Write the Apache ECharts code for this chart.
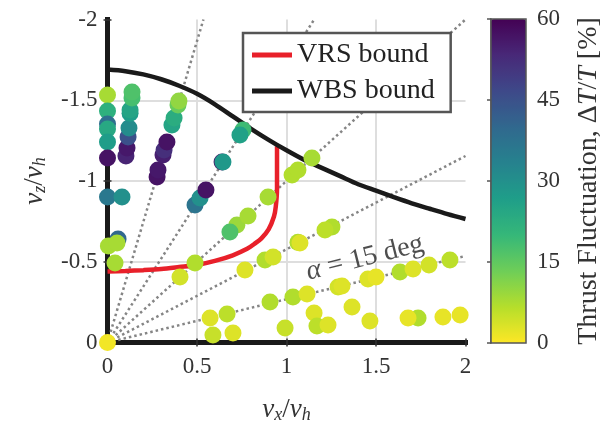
<!DOCTYPE html>
<html>
<head>
<meta charset="utf-8">
<script src="https://cdn.jsdelivr.net/npm/echarts@6/dist/echarts.min.js"></script>
<style>
  html, body { margin: 0; padding: 0; background: #fff; }
  #chart { width: 600px; height: 425px; }
</style>
</head>
<body>
<div id="chart"></div>
<script>
const serif = 'Liberation Serif'

// axis ticks
const xTicks = [0, 0.5, 1, 1.5, 2]
const yTicks = [-2, -1.5, -1, -0.5, 0]
const cbTicks = [0, 15, 30, 45, 60]

// boundaries
const wbsX = [0, 0.1, 0.2, 0.3, 0.4, 0.5, 0.6, 0.7, 0.8, 0.9, 1.0, 1.1, 1.2, 1.3, 1.4, 1.5, 1.6, 1.7, 1.8, 1.9, 2.0]
const wbsY = [-1.69, -1.68, -1.66, -1.63, -1.59, -1.54, -1.475, -1.40, -1.325, -1.255, -1.19, -1.13, -1.08, -1.03, -0.98, -0.94, -0.90, -0.862, -0.828, -0.795, -0.765]
const vrsX = [0, 0.1, 0.2, 0.3, 0.4, 0.5, 0.6, 0.7, 0.78, 0.82, 0.86, 0.9, 0.93, 0.94, 0.947, 0.947]
const vrsY = [-0.44, -0.443, -0.448, -0.455, -0.467, -0.48, -0.505, -0.54, -0.58, -0.61, -0.645, -0.7, -0.78, -0.84, -0.95, -1.215]

// reference rays (deg)
const rayAngles = [15, 30, 45, 60, 75]

// measured points: vx/vh, vz/vh, thrust fluctuation [%]
const ptX = [0, 0, 0, 0, 0, 0, 0, 0, 0.081, 0.059, 0.005, 0.053, 0.042,
  0.103, 0.109, 0.115, 0.12, 0.126, 0.126, 0.137, 0.137,
  0.277, 0.282, 0.31, 0.316, 0.332, 0.36, 0.372, 0.394, 0.399,
  0.489, 0.517, 0.55,
  0.64, 0.645, 0.757, 0.74,
  0.723, 0.684, 0.785, 0.897, 1.031, 1.064, 1.142, 0.489, 0.405,
  0.768, 0.88, 0.925, 1.064, 1.075, 1.254, 1.215,
  0.573, 0.668, 0.908, 1.036, 1.115, 1.288, 1.31, 1.455, 1.5, 1.634, 1.707, 1.796, 1.913,
  0.589, 0.701, 0.992, 1.154, 1.366, 1.17, 1.232, 1.466, 1.735, 1.679, 1.874, 1.97]
const ptY = [0, -1.532, -1.433, -1.353, -1.322, -1.241, -1.142, -0.901, -0.901, -0.641, -0.598, -0.616, -0.492,
  -1.155, -1.204, -1.272, -1.328, -1.42, -1.44, -1.514, -1.551,
  -1.025, -1.068, -1.161, -1.192, -1.241, -1.347, -1.39, -1.471, -1.495,
  -0.851, -0.895, -0.944,
  -1.117, -1.117, -1.316, -1.285,
  -0.728, -0.684, -0.783, -0.901, -1.037, -1.068, -1.142, -0.492, -0.406,
  -0.449, -0.511, -0.529, -0.62, -0.616, -0.715, -0.697,
  -0.152, -0.176, -0.251, -0.282, -0.3, -0.344, -0.35, -0.393, -0.406, -0.437, -0.455, -0.48, -0.511,
  -0.046, -0.059, -0.09, -0.183, -0.22, -0.102, -0.108, -0.133, -0.152, -0.152, -0.158, -0.17]
const ptVal = [1, 8, 22, 38, 24, 27, 57, 36, 30, 40, 8, 8, 8,
  54, 56, 45, 31, 27, 25, 18, 17,
  57, 56, 55, 52, 57, 25, 23, 14, 10,
  37, 30, 57,
  56, 28, 19, 26,
  9, 17, 8, 8, 7, 7, 8, 7, 4,
  3, 7, 4, 7, 3, 7, 6,
  3, 6, 7, 7, 3, 4, 3, 3, 2, 7, 3, 4, 6,
  5, 3, 5, 3, 3, 6, 3, 3, 7, 2, 2, 2]

const viridis = ['#fde725', '#b5de2b', '#6ece58', '#35b779', '#1f9e89', '#26828e', '#31688e', '#3e4989', '#482878', '#440154']

const chart = echarts.init(document.getElementById('chart'), null, { renderer: 'canvas' })

const points = ptX.map((x, i) => [x, ptY[i], ptVal[i]])
const rays = rayAngles.map(a => {
  const t = Math.tan(a * Math.PI / 180)
  const end = t <= 1 ? [2, -2 * t] : [2 / t, -2]
  return {
    type: 'line', silent: true, showSymbol: false, z: 1,
    data: [[0, 0], end],
    lineStyle: { color: '#858585', width: 2.5, type: [2.5, 3] }
  }
})

const labelStyle = { fontFamily: serif, fontSize: 23, color: '#333' }
const frame = { show: true, lineStyle: { color: '#1a1a1a', width: 5, cap: 'square' } }
const inTick = { show: true, inside: true, length: 4, lineStyle: { color: '#333', width: 1.5 } }
const gridLine = { show: true, showMinLine: false, showMaxLine: false, lineStyle: { color: '#dedede', width: 2 } }
const nameRich = {
  i: { fontFamily: serif, fontStyle: 'italic', fontSize: 27, color: '#333' },
  s: { fontFamily: serif, fontStyle: 'italic', fontSize: 18, color: '#333', padding: [12, 0, 0, 0] },
  n: { fontFamily: serif, fontSize: 27, color: '#333' }
}

chart.setOption({
  animation: false,
  backgroundColor: '#fff',
  grid: [
    { left: 107.5, top: 19.5, width: 358, height: 323, outerBoundsMode: 'none' },
    { left: 491, top: 19, width: 35, height: 324, outerBoundsMode: 'none', show: true, borderColor: '#555', borderWidth: 1.5, z: 6 }
  ],
  xAxis: [
    {
      type: 'value', gridIndex: 0, min: 0, max: 2, interval: 0.5, position: 'bottom',
      axisLine: frame, axisTick: inTick,
      axisLabel: { ...labelStyle, margin: 13, formatter: v => xTicks.includes(v) ? String(v) : '' },
      splitLine: gridLine,
      name: '{i|v}{s|x}{n|/}{i|v}{s|h}', nameLocation: 'middle', nameGap: 52,
      nameTextStyle: { rich: nameRich }
    },
    {
      type: 'value', gridIndex: 0, min: 0, max: 2, interval: 0.5, position: 'top',
      axisLine: frame, axisTick: inTick, axisLabel: { show: false }, splitLine: { show: false }
    },
    { type: 'value', gridIndex: 1, min: 0, max: 1, show: false }
  ],
  yAxis: [
    {
      type: 'value', gridIndex: 0, min: -2, max: 0, interval: 0.5, inverse: true, position: 'left',
      axisLine: frame, axisTick: inTick,
      axisLabel: { ...labelStyle, margin: 10, formatter: v => yTicks.includes(v) ? String(v) : '' },
      splitLine: gridLine,
      name: '{i|v}{s|z}{n|/}{i|v}{s|h}', nameLocation: 'middle', nameGap: 58, nameRotate: 90,
      nameTextStyle: { rich: nameRich }
    },
    {
      type: 'value', gridIndex: 0, min: -2, max: 0, interval: 0.5, inverse: true, position: 'right',
      axisLine: frame, axisTick: inTick, axisLabel: { show: false }, splitLine: { show: false }
    },
    {
      type: 'value', gridIndex: 1, min: 0, max: 60, interval: 15, position: 'right',
      axisLine: { show: true, lineStyle: { color: '#555', width: 1.5 } },
      axisTick: { show: true, inside: true, length: 4, lineStyle: { color: '#555', width: 1.5 } },
      axisLabel: { ...labelStyle, margin: 11, formatter: v => cbTicks.includes(v) ? String(v) : '' },
      splitLine: { show: false },
      name: 'Thrust Fluctuation, {n|Δ}{i|T}{n|/}{i|T} [%]', nameLocation: 'middle', nameGap: 49, nameRotate: 90,
      nameTextStyle: {
        fontFamily: serif, fontSize: 28, color: '#333',
        rich: {
          i: { fontFamily: serif, fontStyle: 'italic', fontSize: 28, color: '#333' },
          n: { fontFamily: serif, fontSize: 28, color: '#333' }
        }
      }
    }
  ],
  legend: {
    data: ['VRS bound', 'WBS bound'],
    orient: 'vertical', left: 243, top: 33,
    padding: [8, 16, 7, 9], itemGap: 8, itemWidth: 40, itemHeight: 5, icon: 'rect',
    backgroundColor: '#fff', borderColor: '#555', borderWidth: 2.5, borderRadius: 0,
    textStyle: { fontFamily: serif, fontSize: 28, color: '#222' }
  },
  visualMap: {
    type: 'continuous', seriesIndex: 7, dimension: 2, min: 0, max: 60,
    calculable: false, left: 491, top: 19, itemWidth: 35, itemHeight: 324, padding: 0,
    inRange: { color: viridis }, textStyle: { color: 'transparent' }, text: null
  },
  series: [
    ...rays,
    {
      name: 'VRS bound', type: 'line', showSymbol: false, smooth: 0.3, z: 2,
      data: vrsX.map((x, i) => [x, vrsY[i]]),
      color: '#e8202a', lineStyle: { color: '#e8202a', width: 4.5 }
    },
    {
      name: 'WBS bound', type: 'line', showSymbol: false, smooth: 0.3, z: 2,
      data: wbsX.map((x, i) => [x, wbsY[i]]),
      color: '#1a1a1a', lineStyle: { color: '#1a1a1a', width: 4.5 }
    },
    {
      type: 'scatter', symbolSize: 17, z: 3, data: points,
      itemStyle: { opacity: 1 }
    },
    {
      type: 'scatter', symbolSize: 0, z: 4, silent: true,
      data: [[1.438, -0.523]],
      label: {
        show: true, position: 'inside', rotate: 14,
        formatter: '{a|α} = 15 deg',
        fontFamily: serif, fontSize: 28, color: '#222',
        rich: { a: { fontFamily: serif, fontStyle: 'italic', fontSize: 28, color: '#222' } }
      }
    }
  ]
})
</script>
</body>
</html>
